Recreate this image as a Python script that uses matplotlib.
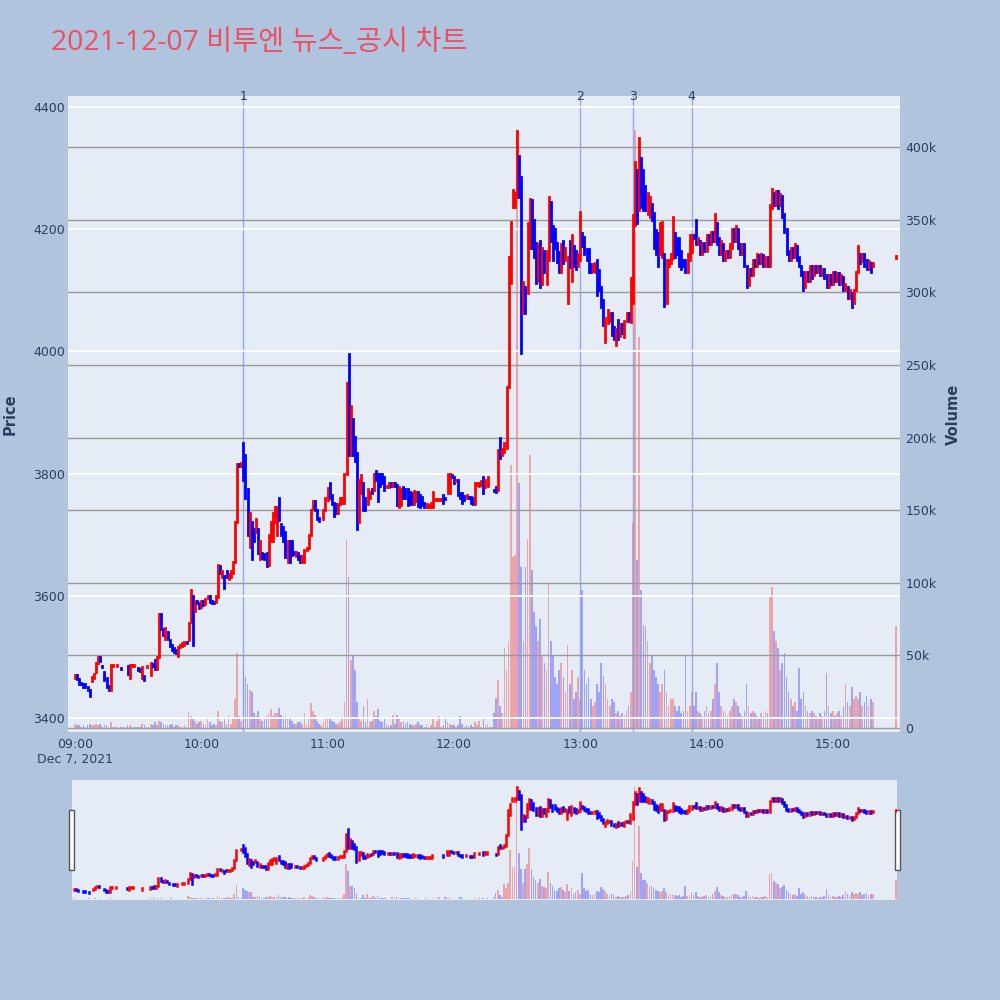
import numpy as np
import matplotlib.pyplot as plt
import matplotlib.patches as patches

plt.rcParams['font.family'] = ['DejaVu Sans', 'Noto Sans CJK KR']

title = '2021-12-07 비투엔 뉴스_공시 차트'

# minutes after 09:00 (continuous session 09:00-15:19, closing auction 15:30)
minutes = list(range(380)) + [390]

opens = [
    3466, 3470, 3463, 3458, 3456, 3455, 3450, 3446, 3460, 3465,
    3475, 3490, 3500, 3485, 3475, 3465, 3452, 3446, 3485, 3485,
    3485, 3485, 3481, 3482, 3482, 3485, 3465, 3485, 3485, 3484,
    3481, 3480, 3465, 3468, 3484, 3485, 3470, 3488, 3495, 3480,
    3500, 3570, 3545, 3530, 3540, 3528, 3520, 3515, 3512, 3502,
    3516, 3518, 3520, 3524, 3528, 3557, 3600, 3575, 3592, 3588,
    3582, 3592, 3586, 3596, 3600, 3592, 3590, 3590, 3598, 3648,
    3630, 3632, 3640, 3628, 3630, 3638, 3655, 3720, 3815, 3812,
    3850, 3830, 3775, 3680, 3720, 3710, 3705, 3710, 3660, 3670,
    3668, 3670, 3650, 3690, 3690, 3720, 3700, 3760, 3718, 3712,
    3705, 3656, 3690, 3690, 3672, 3665, 3670, 3665, 3655, 3655,
    3675, 3678, 3700, 3742, 3755, 3740, 3728, 3725, 3725, 3740,
    3757, 3785, 3765, 3752, 3750, 3735, 3750, 3752, 3752, 3800,
    3995, 3830, 3890, 3860, 3834, 3720, 3768, 3785, 3760, 3750,
    3760, 3775, 3773, 3805, 3800, 3800, 3800, 3795, 3778, 3778,
    3785, 3780, 3785, 3781, 3745, 3748, 3778, 3775, 3775, 3770,
    3768, 3750, 3755, 3770, 3765, 3762, 3752, 3745, 3745, 3745,
    3745, 3757, 3757, 3757, 3757, 3765, 3760, 3768, 3768, 3798,
    3795, 3788, 3790, 3768, 3768, 3763, 3760, 3762, 3762, 3760,
    3750, 3782, 3780, 3782, 3795, 3778, 3780, 3788, 3780, 3773,
    3778, 3773, 3858, 3830, 3835, 3842, 3942, 4112, 4236, 4236,
    4253, 4320, 4285, 4063, 4105, 4095, 4170, 4248, 4215, 4178,
    4115, 4180, 4110, 4165, 4110, 4150, 4245, 4205, 4200, 4178,
    4163, 4130, 4180, 4150, 4080, 4180, 4115, 4173, 4165, 4140,
    4150, 4193, 4188, 4168, 4168, 4143, 4132, 4130, 4150, 4133,
    4105, 4084, 4015, 4047, 4050, 4063, 4040, 4011, 4052, 4025,
    4045, 4023, 4050, 4063, 4048, 4080, 4207, 4297, 4232, 4317,
    4297, 4270, 4225, 4220, 4242, 4226, 4198, 4193, 4160, 4155,
    4160, 4080, 4140, 4145, 4153, 4193, 4185, 4185, 4165, 4150,
    4150, 4130, 4150, 4163, 4190, 4215, 4175, 4180, 4160, 4178,
    4165, 4190, 4175, 4195, 4180, 4210, 4185, 4160, 4175, 4150,
    4165, 4155, 4170, 4200, 4180, 4200, 4175, 4160, 4175, 4140,
    4108, 4135, 4125, 4150, 4140, 4158, 4145, 4158, 4140, 4155,
    4140, 4235, 4260, 4240, 4262, 4240, 4255, 4225, 4200, 4165,
    4150, 4170, 4155, 4172, 4155, 4140, 4130, 4105, 4130, 4115,
    4140, 4125, 4140, 4130, 4140, 4125, 4135, 4125, 4105, 4125,
    4110, 4130, 4115, 4128, 4110, 4122, 4100, 4105, 4088, 4095,
    4080, 4100, 4130, 4160, 4148, 4160, 4150, 4135, 4145, 4140,
    4153,
]

closes = [
    3470, 3463, 3456, 3455, 3450, 3450, 3446, 3436, 3467, 3472,
    3490, 3500, 3494, 3484, 3462, 3450, 3446, 3486, 3486, 3485,
    3486, 3485, 3480, 3481, 3481, 3472, 3486, 3486, 3486, 3484,
    3478, 3477, 3483, 3462, 3485, 3485, 3490, 3485, 3480, 3500,
    3570, 3545, 3535, 3548, 3530, 3518, 3512, 3508, 3506, 3516,
    3520, 3522, 3524, 3522, 3555, 3610, 3520, 3592, 3588, 3580,
    3592, 3585, 3595, 3600, 3590, 3588, 3588, 3600, 3650, 3638,
    3640, 3612, 3630, 3636, 3640, 3655, 3720, 3815, 3812, 3818,
    3790, 3760, 3700, 3735, 3660, 3690, 3725, 3670, 3690, 3662,
    3660, 3648, 3700, 3720, 3735, 3745, 3745, 3724, 3700, 3690,
    3664, 3690, 3655, 3667, 3668, 3672, 3660, 3655, 3665, 3675,
    3678, 3700, 3740, 3755, 3740, 3725, 3723, 3725, 3740, 3760,
    3776, 3760, 3750, 3730, 3735, 3750, 3760, 3760, 3800, 3948,
    3830, 3910, 3830, 3820, 3710, 3790, 3797, 3740, 3740, 3775,
    3770, 3768, 3800, 3790, 3755, 3780, 3785, 3773, 3780, 3785,
    3780, 3785, 3780, 3748, 3778, 3775, 3760, 3760, 3748, 3750,
    3750, 3772, 3770, 3747, 3745, 3748, 3745, 3750, 3748, 3752,
    3770, 3758, 3758, 3758, 3758, 3752, 3758, 3800, 3800, 3795,
    3785, 3790, 3765, 3760, 3752, 3757, 3765, 3760, 3752, 3750,
    3785, 3785, 3785, 3788, 3768, 3790, 3795, 3788, 3780, 3772,
    3770, 3839, 3825, 3840, 3850, 3942, 4155, 4212, 4264, 4260,
    4360, 4253, 3997, 4113, 4063, 4210, 4250, 4170, 4155, 4112,
    4175, 4105, 4170, 4130, 4165, 4253, 4180, 4150, 4170, 4147,
    4130, 4175, 4145, 4170, 4155, 4138, 4190, 4140, 4135, 4160,
    4228, 4173, 4160, 4150, 4130, 4130, 4143, 4145, 4092, 4100,
    4073, 4043, 4054, 4067, 4063, 4027, 4020, 4036, 4020, 4045,
    4030, 4050, 4063, 4050, 4120, 4223, 4310, 4210, 4350, 4236,
    4232, 4232, 4260, 4253, 4215, 4170, 4160, 4140, 4210, 4212,
    4075, 4150, 4150, 4160, 4220, 4155, 4160, 4140, 4135, 4140,
    4130, 4160, 4190, 4190, 4185, 4175, 4185, 4160, 4178, 4165,
    4190, 4175, 4195, 4180, 4225, 4175, 4160, 4180, 4150, 4165,
    4155, 4175, 4200, 4180, 4205, 4170, 4160, 4175, 4140, 4105,
    4135, 4125, 4150, 4140, 4160, 4145, 4160, 4140, 4155, 4140,
    4240, 4265, 4240, 4262, 4235, 4258, 4220, 4195, 4160, 4150,
    4170, 4155, 4175, 4150, 4140, 4125, 4100, 4130, 4115, 4140,
    4120, 4140, 4130, 4140, 4125, 4135, 4120, 4105, 4125, 4110,
    4130, 4115, 4128, 4110, 4125, 4100, 4110, 4088, 4100, 4072,
    4100, 4130, 4172, 4145, 4160, 4140, 4135, 4148, 4130, 4145,
    4156,
]

# volume in thousands of shares
volumes = [
    3, 2, 2, 1, 2, 1, 2, 3, 2, 2,
    3, 2, 3, 1, 2, 2, 1, 4, 1, 0.5,
    1, 0.3, 1, 1, 1, 2, 2, 1, 1, 0.5,
    1, 1, 3, 2, 1, 0.5, 3, 2, 4, 2,
    5, 4, 3, 2, 2, 2, 3, 1, 2, 2,
    1, 1, 2, 1, 11, 8, 6, 5, 3, 4,
    5, 3, 2, 6, 4, 2, 3, 2, 12, 5,
    4, 6, 3, 9, 3, 6, 20, 52, 8, 5,
    42, 35, 30, 26, 25, 10, 8, 12, 7, 5,
    6, 8, 10, 13, 8, 10, 10, 14, 9, 7,
    8, 6, 7, 5, 3, 3, 4, 4, 3, 10,
    2, 6, 17, 12, 9, 5, 3, 2, 4, 6,
    7, 6, 5, 4, 3, 3, 4, 6, 18, 130,
    104, 47, 50, 40, 18, 6, 5, 15, 4, 20,
    4, 5, 12, 8, 13, 5, 4, 6, 3, 2,
    2, 9, 3, 9, 6, 4, 4, 3, 4, 3,
    2, 2, 3, 4, 2, 2, 1, 3, 1, 2,
    6, 1, 5, 8, 1, 2, 7, 4, 3, 2,
    2, 1, 2, 8, 3, 1, 2, 1, 2, 1,
    4, 2, 5, 1, 6, 2, 3, 1, 0.5, 10,
    21, 33, 15, 10, 55, 40, 60, 181, 118, 119,
    412, 169, 111, 60, 111, 130, 188, 109, 80, 70,
    60, 75, 50, 45, 40, 100, 60, 50, 35, 30,
    40, 45, 35, 25, 57, 30, 40, 20, 25, 35,
    20, 95, 40, 30, 35, 20, 15, 18, 30, 25,
    45, 36, 30, 20, 15, 20, 18, 10, 12, 8,
    10, 9, 12, 15, 25, 141, 412, 116, 269, 95,
    71, 70, 60, 45, 50, 40, 35, 30, 25, 30,
    40, 25, 15, 20, 20, 15, 12, 15, 10, 12,
    50, 12, 15, 25, 15, 25, 12, 10, 8, 12,
    15, 10, 12, 20, 30, 45, 25, 15, 12, 10,
    8, 12, 15, 20, 18, 15, 10, 8, 12, 30,
    15, 10, 12, 10, 8, 6, 10, 8, 12, 10,
    91, 97, 67, 60, 55, 40, 45, 52, 35, 25,
    20, 15, 18, 12, 41, 20, 25, 15, 12, 10,
    12, 10, 8, 6, 10, 8, 12, 38, 15, 10,
    12, 8, 10, 12, 8, 15, 30, 18, 15, 28,
    20, 22, 20, 25, 15, 18, 22, 15, 20, 18,
    70,
]

event_minutes = [80, 240, 265, 293]
event_labels = ['1', '2', '3', '4']

hour_ticks = [0, 60, 120, 180, 240, 300, 360]
hour_labels = ['09:00\nDec 7, 2021', '10:00', '11:00', '12:00', '13:00', '14:00', '15:00']
price_ticks = [3400, 3600, 3800, 4000, 4200, 4400]
volume_ticks = [0, 50, 100, 150, 200, 250, 300, 350, 400]

BG = '#B0C4DE'
PLOT_BG = '#E5ECF6'
TXT = '#2a3f5f'

x = np.array(minutes)
o = np.array(opens, dtype=float)
c = np.array(closes, dtype=float)
v = np.array(volumes, dtype=float)
up = c >= o
candle_colors = np.where(up, 'red', 'blue')


def draw_panel(ax, axv, lw):
    axv.bar(x, v, width=0.8, color=candle_colors, alpha=0.3, linewidth=0)
    lo = np.minimum(o, c)
    hi = np.maximum(o, c)
    lc = ax.vlines(x, lo, hi, colors=candle_colors, linewidth=lw)
    lc.set_capstyle('projecting')
    ax.set_ylim(3377, 4418)
    axv.set_ylim(-2.75, 435.3)


fig = plt.figure(figsize=(10, 10), dpi=100)
fig.patch.set_facecolor(BG)

# main chart: volume axes underneath, price axes on top
axv = fig.add_axes([0.068, 0.268, 0.832, 0.636])
ax = axv.twinx()
ax.set_zorder(2)
axv.set_zorder(1)
ax.patch.set_visible(False)
axv.patch.set_facecolor(PLOT_BG)

draw_panel(ax, axv, 2.0)
axv.set_xlim(-3.3, 391.9)

ax.yaxis.tick_left()
ax.yaxis.set_label_position('left')
axv.yaxis.tick_right()
axv.yaxis.set_label_position('right')

ax.set_yticks(price_ticks)
ax.set_yticklabels([str(p) for p in price_ticks])
axv.set_yticks(volume_ticks)
axv.set_yticklabels(['0' if t == 0 else f'{t}k' for t in volume_ticks])
axv.set_xticks(hour_ticks)
axv.set_xticklabels(hour_labels)

ax.grid(axis='y', color='white', linewidth=1.3)
axv.grid(axis='y', color='#9a9a9a', linewidth=1.0)
axv.grid(axis='x', visible=False)

for a in (ax, axv):
    a.tick_params(length=0, labelsize=9, labelcolor=TXT)
    for s in a.spines.values():
        s.set_visible(False)
ax.tick_params(axis='y', pad=2)
axv.tick_params(axis='x', pad=4)
axv.tick_params(axis='y', pad=4)

ax.set_ylabel('Price', fontsize=10.5, fontweight='bold', color=TXT)
ax.yaxis.set_label_coords(-0.061, 0.5)
axv.set_ylabel('Volume', fontsize=10.5, fontweight='bold', color=TXT)
axv.yaxis.set_label_coords(1.055, 0.5)

for m, lab in zip(event_minutes, event_labels):
    ax.axvline(m, color='#7f9be8', linewidth=1, alpha=0.8, zorder=1)
    ax.annotate(lab, xy=(m, 1.0), xycoords=('data', 'axes fraction'),
                xytext=(0, 0), textcoords='offset points',
                ha='center', va='center', fontsize=9, color=TXT)

fig.text(0.051, 0.957, title, fontsize=20.4, color='#EC5066', va='center', ha='left',
         family=['Open Sans', 'Noto Sans CJK KR', 'DejaVu Sans'])

# range slider
asv = fig.add_axes([0.072, 0.100, 0.825, 0.120])
asl = asv.twinx()
asl.set_zorder(2)
asv.set_zorder(1)
asl.patch.set_visible(False)
asv.patch.set_facecolor(PLOT_BG)
draw_panel(asl, asv, 1.8)
asv.set_xlim(-1, 390.5)
for a in (asl, asv):
    a.set_xticks([])
    a.set_yticks([])
    for s in a.spines.values():
        s.set_visible(False)

for hx in (0.069, 0.895):
    fig.patches.append(patches.Rectangle((hx, 0.130), 0.005, 0.060, transform=fig.transFigure,
                                         facecolor='white', edgecolor='#555555', linewidth=1))

fig.savefig('out.png', dpi=100, facecolor=BG)
